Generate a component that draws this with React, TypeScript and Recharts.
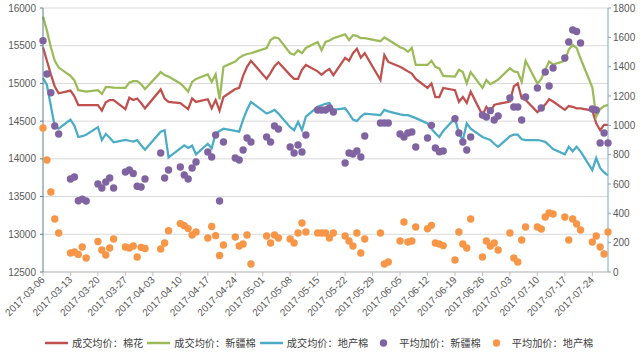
import React from "react";
import {
  CartesianGrid,
  ComposedChart,
  Legend,
  Line,
  Scatter,
  XAxis,
  YAxis,
} from "recharts";

// 交易日（含 4/1、5/27 调休）
const tradingDays = [
  "2017-03-06", "2017-03-07", "2017-03-08", "2017-03-09", "2017-03-10",
  "2017-03-13", "2017-03-14", "2017-03-15", "2017-03-16", "2017-03-17",
  "2017-03-20", "2017-03-21", "2017-03-22", "2017-03-23", "2017-03-24",
  "2017-03-27", "2017-03-28", "2017-03-29", "2017-03-30", "2017-03-31", "2017-04-01",
  "2017-04-05", "2017-04-06", "2017-04-07",
  "2017-04-10", "2017-04-11", "2017-04-12", "2017-04-13", "2017-04-14",
  "2017-04-17", "2017-04-18", "2017-04-19", "2017-04-20", "2017-04-21",
  "2017-04-24", "2017-04-25", "2017-04-26", "2017-04-27", "2017-04-28",
  "2017-05-02", "2017-05-03", "2017-05-04", "2017-05-05",
  "2017-05-08", "2017-05-09", "2017-05-10", "2017-05-11", "2017-05-12",
  "2017-05-15", "2017-05-16", "2017-05-17", "2017-05-18", "2017-05-19",
  "2017-05-22", "2017-05-23", "2017-05-24", "2017-05-25", "2017-05-26", "2017-05-27",
  "2017-05-31", "2017-06-01", "2017-06-02",
  "2017-06-05", "2017-06-06", "2017-06-07", "2017-06-08", "2017-06-09",
  "2017-06-12", "2017-06-13", "2017-06-14", "2017-06-15", "2017-06-16",
  "2017-06-19", "2017-06-20", "2017-06-21", "2017-06-22", "2017-06-23",
  "2017-06-26", "2017-06-27", "2017-06-28", "2017-06-29", "2017-06-30",
  "2017-07-03", "2017-07-04", "2017-07-05", "2017-07-06", "2017-07-07",
  "2017-07-10", "2017-07-11", "2017-07-12", "2017-07-13", "2017-07-14",
  "2017-07-17", "2017-07-18", "2017-07-19", "2017-07-20", "2017-07-21",
  "2017-07-24", "2017-07-25", "2017-07-26", "2017-07-27", "2017-07-28",
];

// 成交均价：棉花
const cotton = [
  15480, 15300, 15120, 14960, 14870,
  14905, 14830, 14714, 14714, 14714,
  14714, 14640, 14750, 14780, 14780,
  14660, 14810, 14780, 14800, 14740, 14670,
  14920, 14800, 14755,
  14740, 14700, 14660, 14800, 14755,
  14790, 14670, 14780, 14640, 14820,
  14925, 14940, 15100, 15220, 15300,
  15060, 15140, 15230, 15280,
  15110, 15060, 15060, 15180, 15245,
  15160, 15115, 15160, 15190, 15110,
  15340, 15300, 15400, 15460, 15340, 15400,
  15045, 15375, 15285,
  15220, 15190, 15160, 15130, 15060,
  14940, 15000, 14820, 14820, 14940,
  14910, 14755, 14820, 14740, 14890,
  14580, 14690, 14620, 14715, 14730,
  14760, 14960, 15000, 14800, 14780,
  14620, 14670, 14720, 14790, 14760,
  14650, 14700, 14690, 14670, 14670,
  14640, 14470, 14380, 14450, 14450,
];

// 成交均价：新疆棉
const xinjiang = [
  15885, 15700, 15480, 15300, 15210,
  15100, 15040, 14910, 14900, 14890,
  14910, 14860, 14950, 14950, 14945,
  14940, 15010, 15030, 15030, 14990, 14925,
  15150, 15110, 15090,
  15000, 14950, 14890, 15020, 15060,
  15120, 15020, 15120, 14790, 15220,
  15290, 15340, 15370, 15390, 15400,
  15470, 15575, 15610, 15600,
  15400, 15380, 15440, 15400, 15470,
  15550, 15440, 15550, 15570, 15600,
  15650, 15575, 15640, 15630, 15600, 15600,
  15560, 15610, 15580,
  15480, 15460, 15420, 15470, 15245,
  15245, 15300, 15220, 15200, 15100,
  15090, 15180, 15150, 15000, 15150,
  14940, 15045, 14990, 15020, 15050,
  15200, 15160, 15150, 15020, 15300,
  15000, 15060, 15180, 15290, 15250,
  15300, 15450, 15510, 15470, 15330,
  14950, 14560, 14660, 14700, 14715,
];

// 成交均价：地产棉
const local = [
  15070, 14980, 14700, 14430, 14400,
  14520, 14440, 14290, 14300, 14320,
  14420, 14250, 14330, 14280, 14220,
  14250, 14240, 14230, 14250, 14180, 14120,
  14360, 14380, 14020,
  14140, 14180, 14145, 14175, 14060,
  14200, 14140, 14340, 14370, 14400,
  14370, 14360, 14520, 14650, 14755,
  14600, 14620, 14650, 14600,
  14420, 14380, 14490, 14380, 14560,
  14690, 14710, 14730, 14740, 14650,
  14670, 14600, 14520, 14500, 14560, 14600,
  14580, 14650, 14630,
  14590, 14580, 14580, 14560, 14540,
  14470, 14400, 14340, 14290, 14370,
  14540, 14340, 14250, 14470, 14400,
  14290, 14270, 14250, 14200, 14160,
  14300, 14320, 14320, 14260, 14250,
  14250, 14240, 14225, 14180, 14130,
  14060, 14160, 14100, 14160, 14100,
  13850, 14010, 13880, 13820, 13780,
];

// 平均加价：新疆棉
const xjPremium = [
  1577, 1350, 1222, 995, 941,
  634, 648, 486, 497, 484,
  600, 573, 614, 641, 573,
  682, 695, 672, 585, 580, 634,
  811, 641, 695,
  716, 661, 634, 709, 750,
  818, 784, 934, 484, 886,
  777, 764, 832, 914, 886,
  920, 886, 995, 975,
  852, 811, 866, 818, 934,
  1105, 1105, 1105, 1118, 1091,
  743, 811, 805, 825, 784, 927,
  1016, 1016, 1016,
  941, 920, 948, 955, 852,
  914, 1000, 845, 820, 825,
  1045, 948, 886, 832, 920,
  1070, 1057, 1100, 1036, 1064,
  1186, 1125, 1125, 1036, 1193,
  1255, 1118, 1364, 1268, 1391,
  1459, 1568, 1650, 1640, 1561,
  1111, 1105, 880, 948, 880,
];

// 平均加价：地产棉
const localPremium = [
  982, 764, 545, 361, 266,
  130, 136, 120, 170, 95,
  208, 150, 116, 164, 225,
  170, 164, 177, 102, 168, 160,
  157, 198, 282,
  330, 316, 296, 252, 273,
  232, 310, 248, 112, 184,
  239, 177, 191, 252, 55,
  245, 198, 252, 232,
  225, 198, 266, 334, 273,
  266, 266, 266, 232, 266,
  245, 211, 177, 266, 130, 225,
  266, 55, 68,
  211, 341, 205, 211, 307,
  295, 318, 198, 191, 180,
  82, 273, 191, 164, 361,
  102, 211, 177, 198, 150,
  266, 95, 68, 218, 307,
  307, 293, 375, 402, 395,
  375, 218, 361, 327, 286,
  205, 245, 170, 123, 273,
];

const weekLabels = [
  "2017-03-06", "2017-03-13", "2017-03-20", "2017-03-27", "2017-04-03",
  "2017-04-10", "2017-04-17", "2017-04-24", "2017-05-01", "2017-05-08",
  "2017-05-15", "2017-05-22", "2017-05-29", "2017-06-05", "2017-06-12",
  "2017-06-19", "2017-06-26", "2017-07-03", "2017-07-10", "2017-07-17",
  "2017-07-24",
];
const lastDay = "2017-07-28";

const leftTicks = [12500, 13000, 13500, 14000, 14500, 15000, 15500, 16000];
const rightTicks = [0, 200, 400, 600, 800, 1000, 1200, 1400, 1600, 1800];

const seriesNames = [
  "成交均价：棉花",
  "成交均价：新疆棉",
  "成交均价：地产棉",
  "平均加价：新疆棉",
  "平均加价：地产棉",
];
const seriesColors = ["#C0504D", "#9BBB59", "#4BACC6", "#8064A2", "#F79646"];

const FONT = "'Liberation Sans', Arial, sans-serif";
const CJK = "'Noto Sans CJK SC', sans-serif";

const dayOf = (d: string) =>
  (Date.parse(d) - Date.parse(tradingDays[0])) / 86400000;

const data = tradingDays.map((d, i) => ({
  day: dayOf(d),
  cotton: cotton[i],
  xinjiang: xinjiang[i],
  local: local[i],
  xjPremium: xjPremium[i],
  localPremium: localPremium[i],
}));

const weekTicks = weekLabels.map(dayOf);

function DateTick(props: any) {
  const { x, y, payload } = props;
  const label = weekLabels[weekTicks.indexOf(payload.value)] ?? "";
  return (
    <text
      x={x}
      y={y}
      dy={3.5}
      textAnchor="end"
      fontSize={10}
      fontFamily={FONT}
      fill="#595959"
      transform={`rotate(-45, ${x}, ${y})`}
    >
      {label}
    </text>
  );
}

function Dot(color: string) {
  return (p: any) =>
    p.cx == null ? <g /> : <circle cx={p.cx} cy={p.cy} r={3.7} fill={color} />;
}

function LegendBox() {
  return (
    <div
      style={{
        height: 27,
        boxSizing: "border-box",
        paddingTop: 4,
        paddingLeft: 45,
        display: "flex",
        alignItems: "center",
        fontFamily: CJK,
        fontSize: 10.2,
        color: "#404040",
        whiteSpace: "nowrap",
      }}
    >
      {seriesNames.map((name, i) => (
        <div
          key={name}
          style={{ display: "flex", alignItems: "center", marginRight: 4 }}
        >
          <svg width={23} height={10} style={{ marginRight: 4 }}>
            {i < 3 ? (
              <line
                x1={0}
                y1={5}
                x2={23}
                y2={5}
                stroke={seriesColors[i]}
                strokeWidth={2.5}
              />
            ) : (
              <circle cx={11.5} cy={5} r={3.7} fill={seriesColors[i]} />
            )}
          </svg>
          <span>{name}</span>
        </div>
      ))}
    </div>
  );
}

export default function App() {
  return (
    <div
      style={{
        position: "absolute",
        left: 0,
        top: 0,
        width: 640,
        height: 354,
        background: "#fff",
      }}
    >
      <ComposedChart
        width={640}
        height={354}
        data={data}
        margin={{ top: 8, right: 0, bottom: 0, left: 0 }}
      >
        <CartesianGrid yAxisId="left" vertical={false} stroke="#D9D9D9" />
        <XAxis
          type="number"
          dataKey="day"
          domain={[0, dayOf(lastDay)]}
          ticks={weekTicks}
          interval={0}
          height={55}
          axisLine={{ stroke: "#BFBFBF" }}
          tickLine={{ stroke: "#BFBFBF" }}
          tickSize={4}
          tickMargin={2}
          tick={<DateTick />}
        />
        <YAxis
          yAxisId="left"
          domain={[12500, 16000]}
          ticks={leftTicks}
          interval={0}
          width={43}
          axisLine={{ stroke: "#5E7F8E" }}
          tickLine={{ stroke: "#5E7F8E" }}
          tickSize={3}
          tickMargin={4}
          tick={{ fontSize: 10, fill: "#595959", fontFamily: FONT }}
        />
        <YAxis
          yAxisId="right"
          orientation="right"
          domain={[0, 1800]}
          ticks={rightTicks}
          interval={0}
          width={32}
          axisLine={{ stroke: "#7DA7CC" }}
          tickLine={{ stroke: "#7DA7CC" }}
          tickSize={3}
          tickMargin={2}
          tick={{ fontSize: 10, fill: "#595959", fontFamily: FONT }}
        />
        <Line
          yAxisId="left"
          type="linear"
          dataKey="cotton"
          name={seriesNames[0]}
          stroke={seriesColors[0]}
          strokeWidth={2.25}
          dot={false}
          isAnimationActive={false}
        />
        <Line
          yAxisId="left"
          type="linear"
          dataKey="xinjiang"
          name={seriesNames[1]}
          stroke={seriesColors[1]}
          strokeWidth={2.25}
          dot={false}
          isAnimationActive={false}
        />
        <Line
          yAxisId="left"
          type="linear"
          dataKey="local"
          name={seriesNames[2]}
          stroke={seriesColors[2]}
          strokeWidth={2.25}
          dot={false}
          isAnimationActive={false}
        />
        <Scatter
          yAxisId="right"
          dataKey="xjPremium"
          name={seriesNames[3]}
          fill={seriesColors[3]}
          shape={Dot(seriesColors[3])}
          isAnimationActive={false}
        />
        <Scatter
          yAxisId="right"
          dataKey="localPremium"
          name={seriesNames[4]}
          fill={seriesColors[4]}
          shape={Dot(seriesColors[4])}
          isAnimationActive={false}
        />
        <Legend verticalAlign="bottom" content={<LegendBox />} />
      </ComposedChart>
    </div>
  );
}
